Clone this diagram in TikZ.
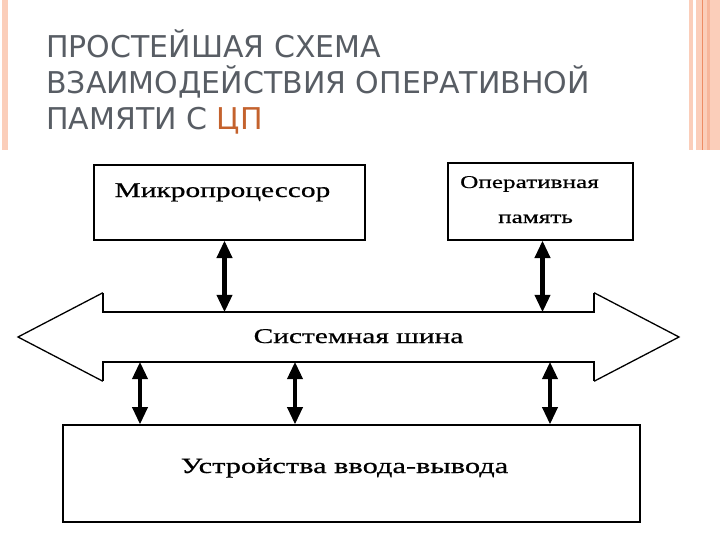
\documentclass[tikz,border=0pt]{standalone}
\usepackage{fontspec}
\setmainfont{Liberation Serif}
\newfontfamily\titlefont{DejaVu Sans}
\newfontfamily\schemefont{Liberation Serif}[FakeStretch=1.4,FakeBold=0.6]
\usetikzlibrary{arrows.meta,positioning,calc}
\definecolor{titlegray}{RGB}{88,93,100}
\definecolor{titleorange}{RGB}{196,98,45}
\definecolor{stripelight}{RGB}{251,206,186}
\definecolor{stripemid}{RGB}{247,182,155}
\definecolor{stripedark}{RGB}{238,140,100}
\tikzset{>={Triangle[length=17pt,width=16pt,line width=1pt]}}

\begin{document}
\begin{tikzpicture}[x=1pt,y=-1pt,
	titleline/.style={anchor=base west, inner sep=0pt, font=\titlefont\fontsize{30}{36}\selectfont, text=titlegray},
	unitbox/.style={draw, line width=2pt, inner sep=0pt},
	unittext/.style={anchor=base, inner sep=0pt, font=\schemefont\fontsize{21}{25}\selectfont},
	buswall/.style={line width=2pt},
	bushead/.style={line width=1.3pt},
	link/.style={<->, line width=4.5pt}]
	% Page frame and decorative stripes
	\useasboundingbox (0,0) rectangle (720,540);
	\fill[stripelight] (2,0) rectangle (8,150); %left stripe
	\fill[stripelight] (689,0) rectangle (692.5,150);
	\fill[stripelight] (696,0) rectangle (720,150);
	\fill[stripemid] (706.5,0) rectangle (710,150);
	\fill[stripedark] (701.5,0) rectangle (702.8,150);

	% Title
	\node[titleline] (title1) at (46,58) {ПРОСТЕЙШАЯ СХЕМА};
	\node[titleline] (title2) at (46,94) {ВЗАИМОДЕЙСТВИЯ ОПЕРАТИВНОЙ};
	\node[titleline] (title3) at (46,130) {ПАМЯТИ С \textcolor{titleorange}{ЦП}};

	% Units
	\node[unitbox, minimum width=271pt, minimum height=75pt] (cpu) at (229.5,202.5) {}; %processor
	\node[unitbox, minimum width=185pt, minimum height=77pt] (ram) at (540.5,201.5) {}; %memory
	\node[unitbox, minimum width=577pt, minimum height=97pt] (io) at (351.5,473.5) {}; %input/output
	\node[inner sep=0pt, minimum width=491pt, minimum height=50pt] (bus) at (348.5,337) {}; %bus body
	\coordinate (ltip) at (18,337); %left head tip
	\coordinate (rtip) at (679,337); %right head tip

	% Labels
	\node[unittext] (cpulabel) at (222.5,197) {Микропроцессор};
	\node[unittext, font=\schemefont\fontsize{18}{22}\selectfont] (ramlabel1) at (529.5,188) {Оперативная};
	\node[unittext, font=\schemefont\fontsize{18}{22}\selectfont] (ramlabel2) at (535.5,223) {память};
	\node[unittext] (buslabel) at (358.5,343) {Системная шина};
	\node[unittext, font=\schemefont\fontsize{21.7}{26}\selectfont] (iolabel) at (344.5,473) {Устройства ввода-вывода};

	% Drawing the bus
	\draw[buswall] ([yshift=19pt]bus.north west) -- (bus.north west) -- (bus.north east) -- ([yshift=19pt]bus.north east);
	\draw[buswall] ([yshift=-19pt]bus.south west) -- (bus.south west) -- (bus.south east) -- ([yshift=-19pt]bus.south east);
	\draw[bushead] ([yshift=19pt]bus.north west) -- (ltip) -- ([yshift=-19pt]bus.south west);
	\draw[bushead] ([yshift=19pt]bus.north east) -- (rtip) -- ([yshift=-19pt]bus.south east);

	% Connections
	\draw[link] ([xshift=-5pt]cpu.south) -- ([xshift=-5pt]cpu.south |- bus.north);
	\draw[link] ([xshift=2pt]ram.south) -- ([xshift=2pt]ram.south |- bus.north);
	\foreach \x in {140,295,550}
		\draw[link, line width=3.5pt] (\x,0 |- bus.south) -- (\x,0 |- io.north);
\end{tikzpicture}
\end{document}
